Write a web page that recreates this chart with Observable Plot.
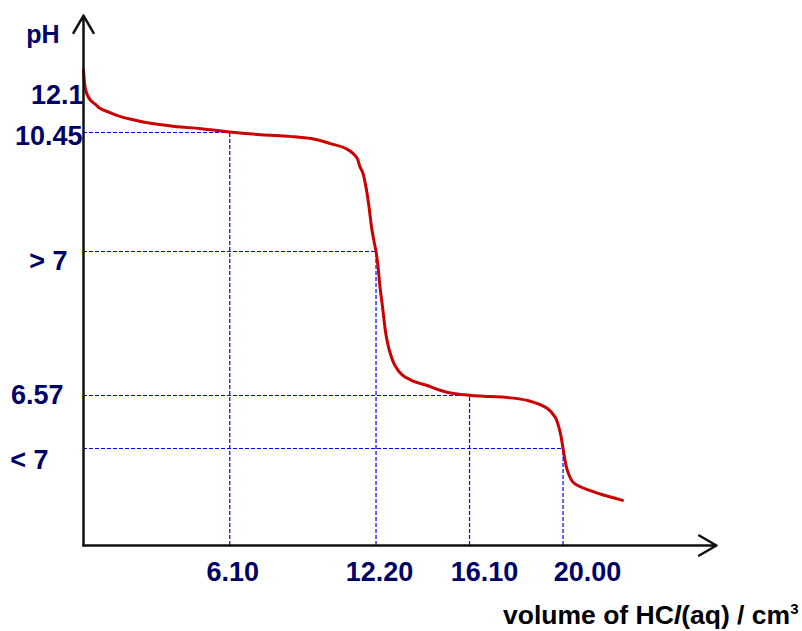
<!DOCTYPE html>
<html>
<head>
<meta charset="utf-8">
<script src="https://cdn.jsdelivr.net/npm/d3@7"></script>
<script src="https://cdn.jsdelivr.net/npm/@observablehq/plot@0.6"></script>
<style>
  html, body { margin: 0; padding: 0; background: #ffffff; }
  #chart svg { display: block; }
</style>
</head>
<body>
<div id="chart"></div>
<script>
// ---- data ----
const volume = [0, 0.04, 0.08, 0.17, 0.3, 0.5, 0.7, 1.1, 1.55, 2.2, 2.8, 3.8, 4.9, 6.1, 7.4, 8.6, 9.5, 10.3, 10.95, 11.25, 11.42, 11.52, 11.64, 11.77, 11.9, 12.02, 12.11, 12.2, 12.28, 12.36, 12.49, 12.61, 12.78, 12.99, 13.28, 13.7, 14.33, 14.9, 15.5, 16.2, 16.97, 17.68, 18.52, 19.35, 19.68, 19.89, 20.0, 20.18, 20.43, 21.14, 21.77, 22.48];
const pH =     [13.25, 12.7, 12.4, 12.1, 11.88, 11.7, 11.52, 11.34, 11.16, 10.99, 10.86, 10.72, 10.62, 10.47, 10.41, 10.38, 10.34, 10.25, 10.16, 10.07, 9.98, 9.84, 9.73, 9.49, 9.13, 8.72, 8.5, 8.3, 8.13, 7.89, 7.59, 7.31, 7.09, 6.93, 6.82, 6.75, 6.69, 6.63, 6.59, 6.57, 6.52, 6.47, 6.33, 5.94, 5.5, 4.73, 4.0, 3.55, 3.3, 3.13, 3.03, 2.93];

const guideVolume = [6.1, 12.2, 16.1, 20.0];
const guidePH = [10.45, 8.3, 6.57, 4.0];

const xTickLabels = ["6.10", "12.20", "16.10", "20.00"];
const yTickValues = [12.1, 10.45, 8.3, 6.57, 4.0];
const yTickLabels = ["12.1", "10.45", "> 7", "6.57", "< 7"];

const yLabel = "pH";
const xTitle = "volume of HCl(aq) / cm3";

// schematic (non-linear) pH axis: pivots of a piecewise-linear transform
const yPivots = [2, 4.0, 6.57, 8.3, 10.45, 12.1, 15.7];
const xDomain = [0, 26.4];

// ---- layout ----
const yPivotHeights = [0, 97, 150, 294, 413, 450, 530];
const yLabelDx = [0, -1, -16, -20, -35];
const yLabelDy = [0, 4, 10, 0, 12];
const xLabelDx = [3, 3.5, 15, 24.5];

const navy = "#000066";
const font = "Liberation Sans, Arial, sans-serif";
const yBottom = yPivots[0], yTop = yPivots[yPivots.length - 1];
const pHToHeight = d3.scaleLinear().domain(yPivots).range(yPivotHeights);

const curve = volume.map((v, i) => ({v, p: pH[i]}));
const guides = guideVolume.map((v, i) => ({v, p: guidePH[i]}));

const yLabelMarks = yTickValues.map((p, i) => Plot.text([p], {
  x: () => 0, y: d => d, text: () => yTickLabels[i],
  textAnchor: "end", lineAnchor: "middle",
  dx: yLabelDx[i], dy: yLabelDy[i],
  fill: navy, fontSize: 27, fontWeight: "bold", fontFamily: font
}));

const xLabelMarks = guideVolume.map((v, i) => Plot.text([v], {
  x: d => d, y: () => yBottom, text: () => xTickLabels[i],
  textAnchor: "middle", lineAnchor: "middle",
  dx: xLabelDx[i], dy: 27,
  fill: navy, fontSize: 27, fontWeight: "bold", fontFamily: font
}));

const svg = Plot.plot({
  width: 802,
  height: 631,
  marginLeft: 83,
  marginRight: 86,
  marginTop: 15,
  marginBottom: 86,
  style: {background: "#ffffff", fontFamily: font},
  x: {domain: xDomain, axis: null},
  y: {type: "linear", transform: p => pHToHeight(p), axis: null, nice: false, zero: false},
  marks: [
    // dashed guides
    Plot.ruleY(guides, {y: "p", x1: () => 0, x2: "v", stroke: "#0000ff", strokeWidth: 1.2, strokeDasharray: "4,2"}),
    Plot.ruleX(guides, {x: "v", y1: () => yBottom, y2: "p", stroke: "#0000ff", strokeWidth: 1.2, strokeDasharray: "4,2"}),
    // labels
    ...yLabelMarks,
    ...xLabelMarks,
    Plot.text([yLabel], {
      frameAnchor: "top-left", text: d => d, textAnchor: "end", lineAnchor: "middle",
      dx: -24, dy: 19, fill: navy, fontSize: 25, fontWeight: "bold", fontFamily: font
    }),
    Plot.text([xTitle], {
      frameAnchor: "bottom-right", text: d => d, textAnchor: "end", lineAnchor: "middle",
      dx: 82, dy: 70, fill: "#000000", fontSize: 26.5, fontWeight: "bold", fontFamily: font
    }),
    // titration curve
    Plot.line(curve, {x: "v", y: "p", stroke: "#cc0000", strokeWidth: 3, curve: "catmull-rom"}),
    // axes as arrows
    Plot.arrow([0], {x1: () => 0, y1: () => yBottom, x2: () => 0, y2: () => yTop,
      stroke: "#111111", strokeWidth: 2.5, headLength: 12, headAngle: 60}),
    Plot.arrow([0], {x1: () => 0, y1: () => yBottom, x2: () => xDomain[1], y2: () => yBottom,
      stroke: "#111111", strokeWidth: 2.5, headLength: 12, headAngle: 60})
  ]
});

// rich text for the x title: italic "l" and superscript "3"
const t = Array.from(svg.querySelectorAll("text")).find(e => e.textContent === xTitle);
if (t) {
  t.textContent = "";
  const ns = "http://www.w3.org/2000/svg";
  const parts = [["volume of HC", {}], ["l", {"font-style": "italic"}], ["(aq) / cm", {}], ["3", {"font-size": 15, "dy": "-10"}]];
  for (const [s, attrs] of parts) {
    const ts = document.createElementNS(ns, "tspan");
    ts.textContent = s;
    for (const k in attrs) ts.setAttribute(k, attrs[k]);
    t.appendChild(ts);
  }
}

document.getElementById("chart").appendChild(svg);
</script>
</body>
</html>
